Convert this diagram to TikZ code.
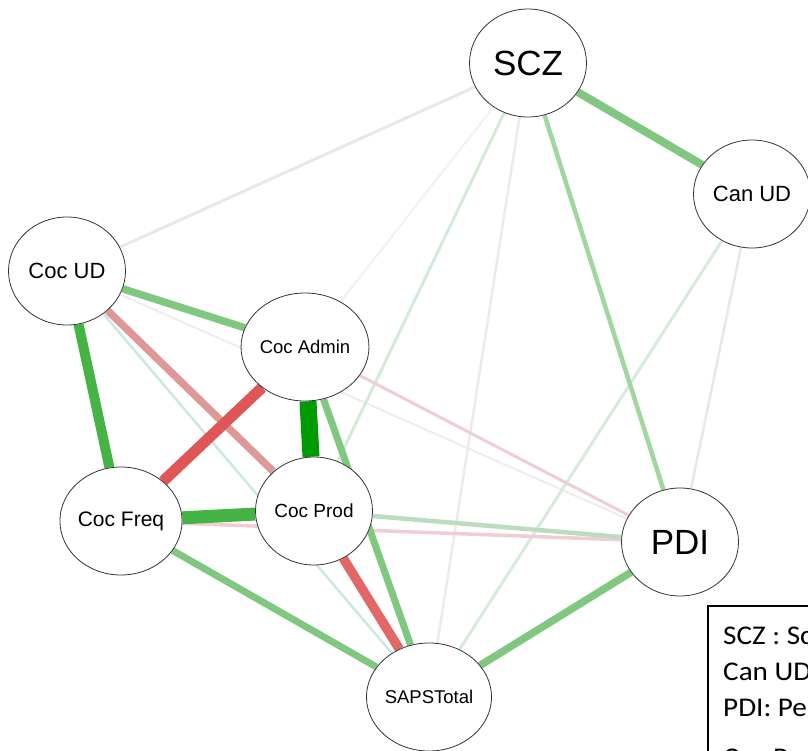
\documentclass[tikz,border=0pt]{standalone}
\usepackage{fontspec}
\setmainfont{Liberation Sans}
\newfontfamily\legendfont{Carlito}[FakeStretch=1.08]
\usepackage{tikz}
\usetikzlibrary{shapes,positioning,backgrounds}

\definecolor{grnDark}{RGB}{0,155,0}
\definecolor{grnMid}{RGB}{68,180,68}
\definecolor{grnLight}{RGB}{128,200,128}
\definecolor{grnPale}{RGB}{160,215,160}
\definecolor{grnGrey}{RGB}{188,220,190}
\definecolor{grnFaint}{RGB}{210,236,215}
\definecolor{tealFaint}{RGB}{205,232,225}
\definecolor{redMid}{RGB}{224,86,86}
\definecolor{redSoft}{RGB}{226,104,104}
\definecolor{redLight}{RGB}{222,152,152}
\definecolor{redFaint}{RGB}{240,205,210}
\definecolor{greyFaint}{RGB}{232,232,232}
\definecolor{greyPink}{RGB}{238,234,234}

\begin{document}
\begin{tikzpicture}[x=1pt, y=-1pt,
    var/.style={ellipse, draw=black!80, fill=white, line width=0.8pt,
        minimum width=117pt, minimum height=108pt, inner sep=0pt},
    big/.style={font=\fontsize{35}{35}\selectfont},
    mid/.style={font=\fontsize{22}{22}\selectfont},
    small/.style={font=\fontsize{18.5}{18.5}\selectfont},
    legline/.style={anchor=base west, inner sep=0pt,
        font=\legendfont\fontsize{27}{27}\selectfont}]
    \useasboundingbox (0,0) rectangle (808,751);

    % Variables
    \node[var, big] (scz) at (528,63) {SCZ};
    \node[var, mid] (canud) at (752,194) {Can UD};
    \node[var, mid] (cocud) at (67,271) {Coc UD};
    \node[var, small] (cocadmin) at (305,347) {Coc Admin};
    \node[var, mid, font=\fontsize{21}{21}\selectfont] (cocfreq) at (121,521) {Coc Freq};
    \node[var, small, font=\fontsize{19}{19}\selectfont] (cocprod) at (314,511) {Coc Prod};
    \node[var, big] (pdi) at (680,542) {PDI};
    \node[var, small] (saps) at (429,697) {SAPSTotal};

    % Edges, faint ones first
    \begin{scope}[on background layer]
        \draw[greyFaint!60, line width=2pt] (scz) -- (cocadmin);
        \draw[greyFaint!80, line width=2pt] (cocud) -- (pdi);
        \draw[greyFaint, line width=2.5pt] (canud) -- (pdi);
        \draw[greyFaint, line width=3pt] (scz) -- (cocud);
        \draw[greyPink, line width=2.5pt] (scz) -- (saps);
        \draw[grnFaint!80!greyFaint, line width=3pt] (canud) -- (saps);
        \draw[tealFaint, line width=2.5pt] (cocud) -- (saps);
        \draw[grnFaint, line width=3pt] (scz) -- (cocprod);
        \draw[redFaint, line width=3pt] (cocadmin) -- (pdi);
        \draw[redFaint, line width=3.5pt] (cocfreq) -- (pdi);
        \draw[grnGrey, line width=4.5pt] (cocprod) -- (pdi);
        \draw[grnPale, line width=4.5pt] (scz) -- (pdi);

        % Stronger links
        \draw[grnLight, line width=8pt] (scz) -- (canud);
        \draw[grnLight, line width=7.5pt] (cocud) -- (cocadmin);
        \draw[grnLight, line width=7pt] (cocfreq) -- (saps);
        \draw[grnLight, line width=7pt] (cocadmin) -- (saps);
        \draw[grnLight, line width=7.5pt] (pdi) -- (saps);
        \draw[redLight, line width=7.5pt] (cocud) -- (cocprod);
        \draw[redSoft, line width=9.5pt] (cocprod) -- (saps);
        \draw[redMid, line width=11pt] (cocadmin) -- (cocfreq);
        \draw[grnMid, line width=10pt] (cocud) -- (cocfreq);
        \draw[grnMid, line width=13pt] (cocfreq) -- (cocprod);
        \draw[grnDark, line width=17pt] (cocadmin) -- (cocprod);
    \end{scope}

    % Legend box, cut by the picture edge
    \begin{scope}
        \clip (0,0) rectangle (808,751);
        \draw[line width=1.3pt] (708,606) rectangle (850,800);
        \node[legline] (legscz) at (723,644) {SCZ : Sc};
        \node[legline] (legcan) at (723,680) {Can UD};
        \node[legline] (legpdi) at (723,716) {PDI: Pe};
        \node[legline] (legcoc) at (723,766) {Coc P};
    \end{scope}
\end{tikzpicture}
\end{document}
